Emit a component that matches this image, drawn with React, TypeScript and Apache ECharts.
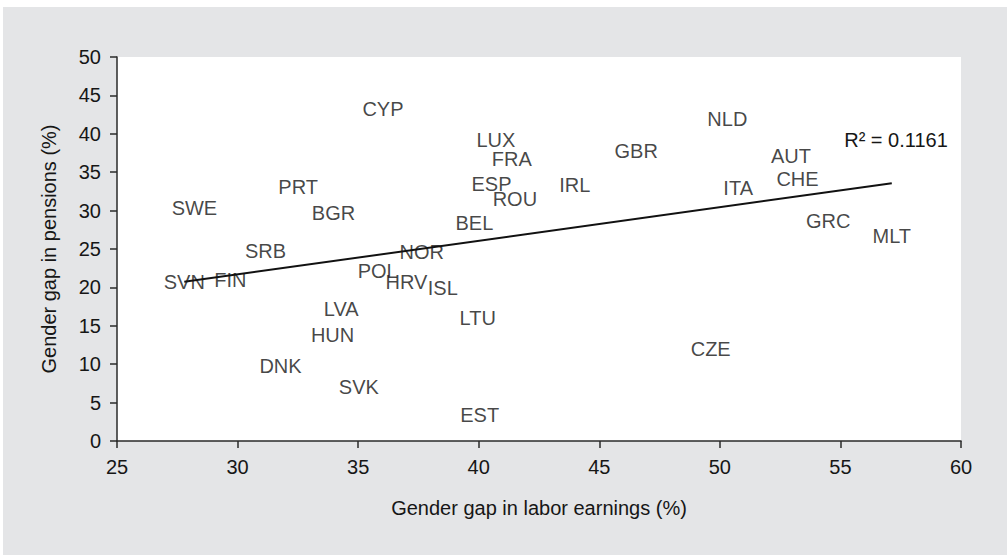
import React, { useEffect, useRef } from "react";
import * as echarts from "echarts";

const countries = ["SVN","SWE","FIN","SRB","DNK","PRT","HUN","BGR","LVA","SVK","POL","CYP","HRV","NOR","ISL","BEL","LTU","EST","ESP","LUX","FRA","ROU","IRL","GBR","CZE","NLD","ITA","AUT","CHE","GRC","MLT"];
const earningsGap = [27.79,28.21,29.70,31.16,31.78,32.51,33.94,33.98,34.30,35.03,35.81,36.03,37.0,37.64,38.51,39.82,39.96,40.04,40.53,40.71,41.37,41.50,43.98,46.53,49.62,50.31,50.76,52.95,53.22,54.49,57.13];
const pensionGap = [20.74,30.3,20.96,24.78,9.77,33.1,13.8,29.65,17.15,7.07,22.1,43.2,20.74,24.65,19.9,28.35,15.98,3.39,33.42,39.2,36.7,31.5,33.3,37.76,11.94,41.9,33.0,37.15,34.15,28.6,26.7];
const xTicks = { min: 25, max: 60, interval: 5 };
const yTicks = { min: 0, max: 50, interval: 5 };
const r2Text = "R\u00b2 = 0.1161";

const FONT = "'Liberation Sans', Arial, Helvetica, sans-serif";
const TXT = "#161616";

function regression(xs: number[], ys: number[]) {
  const n = xs.length;
  const mx = xs.reduce((a, b) => a + b, 0) / n;
  const my = ys.reduce((a, b) => a + b, 0) / n;
  let sxy = 0, sxx = 0;
  for (let i = 0; i < n; i++) {
    sxy += (xs[i] - mx) * (ys[i] - my);
    sxx += (xs[i] - mx) * (xs[i] - mx);
  }
  const b = sxy / sxx;
  const a = my - b * mx;
  return { a, b };
}

export default function App() {
  const ref = useRef<HTMLDivElement>(null);
  useEffect(() => {
    if (!ref.current) return;
    const chart = echarts.init(ref.current, null, { renderer: "svg" });
    const { a, b } = regression(earningsGap, pensionGap);
    const xMin = Math.min(...earningsGap);
    const xMax = Math.max(...earningsGap);
    const axisCommon = {
      axisLine: { show: true, onZero: false, lineStyle: { color: "#2a2a2a", width: 1.5 } },
      axisTick: { show: true, inside: false, length: 7, lineStyle: { color: "#2a2a2a", width: 1.5 } },
      splitLine: { show: false },
      axisLabel: { color: TXT, fontSize: 20, fontFamily: FONT, margin: 16 },
      nameTextStyle: { color: TXT, fontSize: 20, fontFamily: FONT },
      nameLocation: "middle" as const,
    };
    chart.setOption({
      animation: false,
      backgroundColor: "#ffffff",
      graphic: [
        {
          type: "rect",
          z: -10,
          shape: { x: 3, y: 7, width: 1004, height: 548 },
          style: { fill: "#e4e5e7" },
          silent: true,
        },
        {
          type: "text",
          z: 100,
          x: 896,
          y: 140,
          style: {
            text: r2Text,
            fill: TXT,
            fontSize: 20,
            fontFamily: FONT,
            textAlign: "center",
            textVerticalAlign: "middle",
          },
        },
      ],
      grid: {
        left: 117,
        right: 46,
        top: 57,
        bottom: 114,
        show: true,
        backgroundColor: "#ffffff",
        borderWidth: 0,
      },
      xAxis: {
        type: "value",
        ...axisCommon,
        min: xTicks.min,
        max: xTicks.max,
        interval: xTicks.interval,
        name: "Gender gap in labor earnings (%)",
        nameGap: 57,
      },
      yAxis: {
        type: "value",
        ...axisCommon,
        min: yTicks.min,
        max: yTicks.max,
        interval: yTicks.interval,
        name: "Gender gap in pensions (%)",
        nameGap: 58,
      },
      series: [
        {
          type: "scatter",
          z: 2,
          symbolSize: 1,
          itemStyle: { color: "rgba(0,0,0,0)" },
          data: countries.map((c, i) => ({ name: c, value: [earningsGap[i], pensionGap[i]] })),
          label: {
            show: true,
            position: "inside",
            formatter: "{b}",
            color: TXT,
            fontSize: 20,
            fontFamily: FONT,
          },
          emphasis: { disabled: true },
        },
        {
          type: "line",
          z: 5,
          symbol: "none",
          lineStyle: { color: "#111", width: 2 },
          data: [
            [xMin, a + b * xMin],
            [xMax, a + b * xMax],
          ],
        },
      ],
    });
    return () => chart.dispose();
  }, []);
  return (
    <div
      ref={ref}
      style={{ position: "fixed", left: 0, top: 0, width: 1007, height: 555 }}
    />
  );
}
